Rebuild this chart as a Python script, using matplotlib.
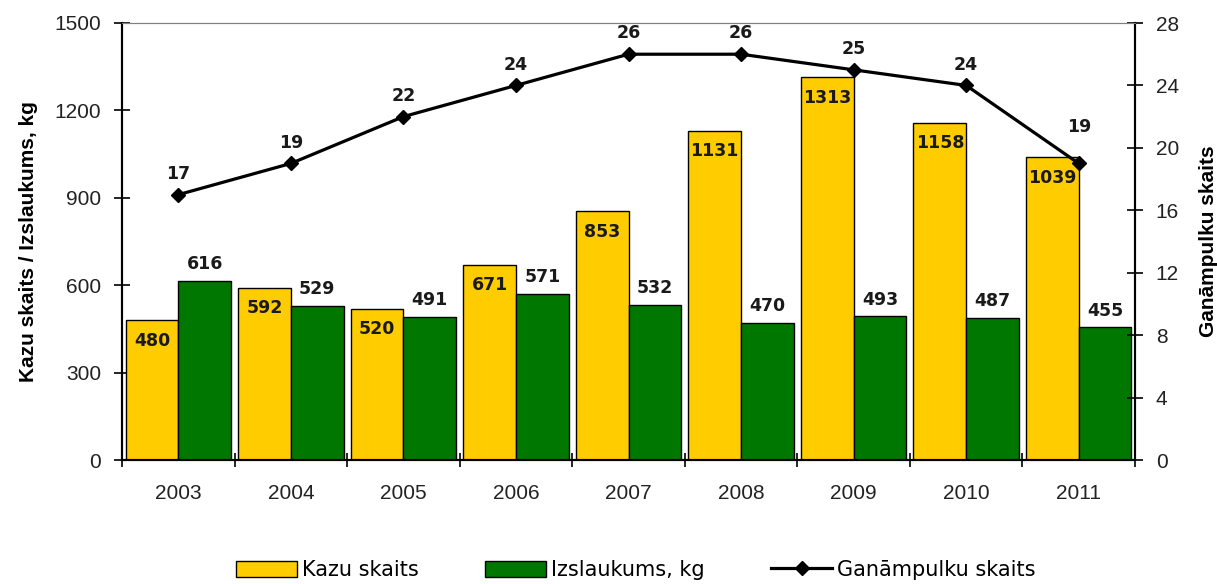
import matplotlib
matplotlib.use("Agg")
import matplotlib.pyplot as plt
import numpy as np
from matplotlib.patches import Patch
from matplotlib.lines import Line2D

years = ["2003", "2004", "2005", "2006", "2007", "2008", "2009", "2010", "2011"]
kazu_skaits = [480, 592, 520, 671, 853, 1131, 1313, 1158, 1039]
izslaukums = [616, 529, 491, 571, 532, 470, 493, 487, 455]
ganampulku = [17, 19, 22, 24, 26, 26, 25, 24, 19]

YELLOW = "#FFCC00"
GREEN = "#007800"
TICKFONT = "Liberation Sans"

fig = plt.figure(figsize=(12.17, 5.84), dpi=100)
ax = fig.add_axes([122/1217, 1-460/584, (1135-122)/1217, (460-23)/584])
ax2 = ax.twinx()

x = np.arange(len(years))
w = 0.468
b1 = ax.bar(x - w/2, kazu_skaits, w, color=YELLOW, edgecolor="black", linewidth=1.0, zorder=2)
b2 = ax.bar(x + w/2, izslaukums, w, color=GREEN, edgecolor="black", linewidth=1.0, zorder=2)

ax.set_xlim(-0.5, len(years) - 0.5)
ax.set_ylim(0, 1500)
ax.set_yticks(np.arange(0, 1501, 300))
ax2.set_ylim(0, 28)
ax2.set_yticks(np.arange(0, 29, 4))

ax.set_xticks(x)
ax.set_xticklabels(years)
ax.set_xticks(np.arange(-0.5, len(years)), minor=True)
ax.tick_params(axis="x", which="major", length=0, pad=17, labelsize=15)
ax.tick_params(axis="x", which="minor", length=10, direction="inout", width=1.2)
ax.tick_params(axis="y", length=12, direction="inout", width=1.2, pad=9, labelsize=15)
ax2.tick_params(axis="y", length=12, direction="inout", width=1.2, pad=9, labelsize=15)
for lab in ax.get_xticklabels() + ax.get_yticklabels() + ax2.get_yticklabels():
    lab.set_fontfamily(TICKFONT)
    lab.set_color("#222222")

for a in (ax, ax2):
    a.spines["top"].set_color("#808080")
    a.spines["left"].set_linewidth(1.5)
    a.spines["right"].set_linewidth(1.5)
    a.spines["bottom"].set_linewidth(1.5)
    a.patch.set_visible(False)

ax.set_ylabel("Kazu skaits / Izslaukums, kg", fontsize=15, fontweight="bold",
              fontfamily=TICKFONT, labelpad=12)
ax2.set_ylabel("Ganāmpulku skaits", fontsize=15, fontweight="bold",
               fontfamily=TICKFONT, labelpad=14)

ax2.plot(x, ganampulku, color="black", linewidth=2.3, marker="D", markersize=7, zorder=5)

lblkw = dict(fontsize=12.5, fontweight="bold", fontfamily="DejaVu Sans", color="#1a1a1a")
for xi, v in zip(x, kazu_skaits):
    ax.annotate(str(v), (xi - w/2, v), xytext=(0, -15), textcoords="offset points",
                ha="center", va="center", **lblkw)
for xi, v in zip(x, izslaukums):
    ax.annotate(str(v), (xi + w/2, v), xytext=(0, 12), textcoords="offset points",
                ha="center", va="center", **lblkw)
for i, (xi, v) in enumerate(zip(x, ganampulku)):
    off = 26 if i == len(x) - 1 else 15
    ax2.annotate(str(v), (xi, v), xytext=(0, off), textcoords="offset points",
                 ha="center", va="center", **lblkw)

handles = [Patch(facecolor=YELLOW, edgecolor="black"),
           Patch(facecolor=GREEN, edgecolor="black"),
           Line2D([0], [0], color="black", linewidth=2.3, marker="D", markersize=7)]
labels = ["Kazu skaits", "Izslaukums, kg", "Ganāmpulku skaits"]
fig.legend(handles, labels, loc="center", bbox_to_anchor=(636/1217, 1-570/584), ncol=3,
           frameon=False, prop={"family": "DejaVu Sans", "size": 15},
           handlelength=2.9, handleheight=0.8, handletextpad=0.25, columnspacing=3.2,
           borderpad=0.1)

fig.savefig("out.png", dpi=100)
